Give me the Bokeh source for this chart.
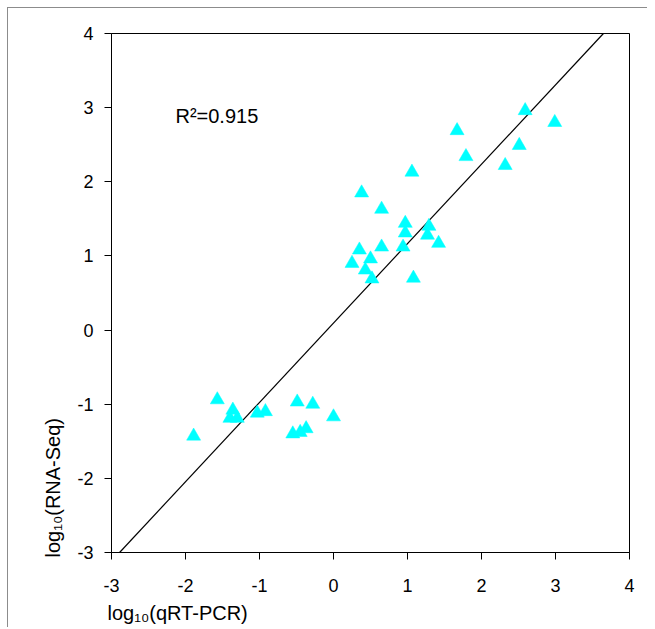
import math
from bokeh.plotting import figure
from bokeh.models import ColumnDataSource, FixedTicker, Label, Range1d, Title
from bokeh.embed import file_html
from bokeh.resources import INLINE

# qRT-PCR (log10) vs RNA-Seq (log10)
qrt_pcr = [2.59, 2.99, 1.67, 1.79, 2.51, 2.32, 1.06, 0.38, 0.65, 0.97, 0.97,
           1.29, 1.27, 1.42, 0.94, 0.35, 0.65, 0.50, 0.25, 0.43, 0.52, 1.08,
           -1.57, -1.36, -1.40, -1.30, -1.03, -0.92, -0.49, -0.28, 0.00,
           -0.55, -0.45, -0.37, -1.89]
rna_seq = [2.96, 2.80, 2.69, 2.34, 2.49, 2.22, 2.13, 1.85, 1.63, 1.44, 1.31,
           1.40, 1.28, 1.17, 1.12, 1.08, 1.12, 0.96, 0.90, 0.81, 0.69, 0.70,
           -0.94, -1.08, -1.19, -1.19, -1.12, -1.10, -0.97, -1.00, -1.17,
           -1.40, -1.38, -1.33, -1.43]

fit_slope = 1.0706
fit_intercept = 0.095
r_squared = 0.915

axis_min, axis_max = -3, 4
ticks = [-3, -2, -1, 0, 1, 2, 3, 4]
tick_labels = ["-3", "-2", "-1", "0", "1", "2", "3", "4"]

p = figure(width=640, height=620, output_backend="svg", toolbar_location=None,
           x_range=Range1d(axis_min, axis_max), y_range=Range1d(axis_min, axis_max),
           min_border_left=103, min_border_right=19, min_border_top=25,
           min_border_bottom=76)
p.styles = {"margin-left": "7px", "margin-top": "7px",
            "border-left": "1px solid #8c8c8c", "border-top": "1px solid #8c8c8c"}

p.xgrid.visible = False
p.ygrid.visible = False
p.background_fill_color = "white"
p.border_fill_color = "white"
p.outline_line_color = "black"
p.outline_line_width = 1

for ax in (p.xaxis[0], p.yaxis[0]):
    ax.ticker = FixedTicker(ticks=ticks)
    ax.major_label_overrides = dict(zip(ticks, tick_labels))
    ax.major_tick_in = 0
    ax.major_tick_out = 7
    ax.minor_tick_in = 0
    ax.minor_tick_out = 0
    ax.axis_line_color = "black"
    ax.major_tick_line_color = "black"
    ax.major_label_text_font = "Liberation Sans"
    ax.major_label_text_font_size = "18px"
    ax.major_label_text_color = "black"
p.xaxis[0].major_label_standoff = 19
p.yaxis[0].major_label_standoff = 11

# regression line across the visible range
y_lo, y_hi = axis_min, axis_max
x_lo = (y_lo - fit_intercept) / fit_slope
x_hi = (y_hi - fit_intercept) / fit_slope
p.line([x_lo, x_hi], [y_lo, y_hi], line_color="black", line_width=1.2)

src = ColumnDataSource(dict(x=qrt_pcr, y=rna_seq))
p.scatter("x", "y", source=src, marker="triangle", size=14,
          fill_color="#00FFFF", line_color="#00FFFF", line_width=0.5)

p.add_layout(Label(x=-2.136, y=2.883, text=f"R²={r_squared}",
                   text_font="Liberation Sans", text_font_size="20px",
                   text_color="black", text_baseline="alphabetic", text_align="left"))

xt = Title(text="log₁₀(qRT-PCR)", align="left", offset=-4, standoff=10,
           text_font="Liberation Sans", text_font_size="20px",
           text_font_style="normal", text_color="black")
p.add_layout(xt, "below")
yt = Title(text="log₁₀(RNA-Seq)", align="left", offset=-5, standoff=22,
           text_font="Liberation Sans", text_font_size="20px",
           text_font_style="normal", text_color="black")
p.add_layout(yt, "left")

open("out.html", "w").write(file_html(p, INLINE))
